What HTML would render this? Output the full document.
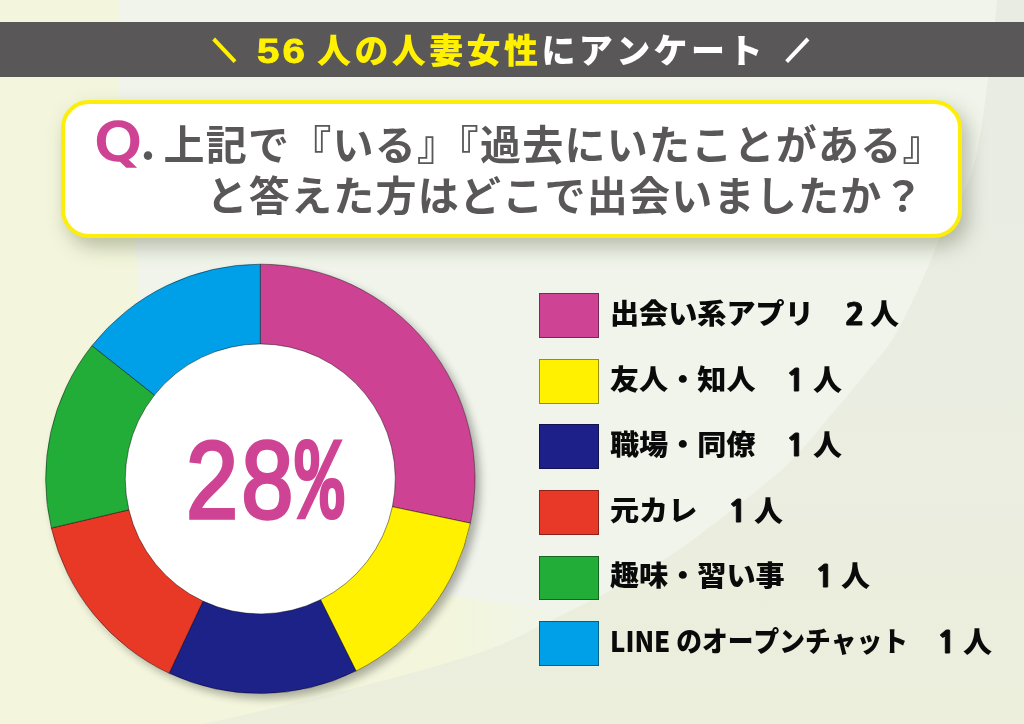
<!DOCTYPE html>
<html lang="ja">
<head>
<meta charset="utf-8">
<title>56人の人妻女性にアンケート</title>
<style>
html,body{margin:0;padding:0;}
body{width:1024px;height:724px;position:relative;overflow:hidden;background:#f3f6dc;font-family:"Liberation Sans","Noto Sans CJK JP",sans-serif;text-spacing-trim:space-all;font-kerning:none;}
#bg{position:absolute;left:0;top:0;width:1024px;height:724px;}
.abs{position:absolute;white-space:nowrap;}
#bar{position:absolute;left:0;top:21.5px;width:1024px;height:55.2px;background:#595757;}
.ti{top:24px;height:55px;line-height:55px;font-weight:900;font-size:34px;letter-spacing:3.4px;color:#fff;}
.ti.sl{font-size:22.5px;letter-spacing:0;-webkit-text-stroke:3px currentColor;margin-top:-.5px;transform:scaleX(.94);}
.ti.y{color:#fff100;}
#qbox{position:absolute;left:61px;top:100px;width:893px;height:130px;border:4px solid #fcee0a;border-radius:28px;background:#fff;box-shadow:6px 9px 19px rgba(70,80,50,.34);}
.q{font-weight:700;color:#595757;font-size:41px;letter-spacing:1.25px;line-height:50px;}
#qQ{left:94.8px;top:112.5px;font-family:"DejaVu Sans","Liberation Sans",sans-serif;font-size:51px;line-height:60px;color:#ce4393;font-weight:400;-webkit-text-stroke:2.5px #ce4393;transform:scaleX(1.15);transform-origin:0 50%;}
#qdot{left:140.6px;top:109.3px;font-family:"Noto Sans CJK JP","Liberation Sans",sans-serif;font-size:46px;line-height:60px;color:#595757;font-weight:700;}
#legend .sw{position:absolute;left:538.8px;width:60px;height:44.6px;box-sizing:border-box;border:1px solid rgba(0,0,0,.4);}
#legend .t{position:absolute;font-weight:900;font-size:29px;letter-spacing:0.1px;line-height:44px;color:#0a0a0a;white-space:nowrap;}
#legend .t.lb{font-size:28px;letter-spacing:0;transform:scaleX(1.04);transform-origin:0 50%;}
#legend .t.d{font-family:"NanumGothic","Liberation Sans",sans-serif;font-weight:800;font-size:29px;margin-top:0px;transform:scaleX(1.12);transform-origin:0 50%;-webkit-text-stroke:.8px #0a0a0a;}
#pct{left:186px;top:419.5px;letter-spacing:3.5px;font-size:109px;line-height:120px;color:#ce4393;-webkit-text-stroke:3.4px #ce4393;}
</style>
</head>
<body>
<svg id="bg" viewBox="0 0 1024 724">
  <defs><linearGradient id="wg" gradientUnits="userSpaceOnUse" x1="450" y1="0" x2="570" y2="0"><stop offset="0" stop-color="#f0f4ea" stop-opacity="0"/><stop offset="1" stop-color="#f0f4ea" stop-opacity="1"/></linearGradient><linearGradient id="cg" x1="0" y1="0" x2="0" y2="1"><stop offset="0" stop-color="#e9ece3"/><stop offset=".55" stop-color="#eaede1"/><stop offset="1" stop-color="#ecefdb"/></linearGradient></defs>
  <path d="M118.5 0H1024V676L137 552V262L118.5 92Z" fill="#f0f4ea"/>
  <path d="M440 590L1024 672V724H440Z" fill="url(#wg)"/>
  <path d="M997.5 -6C997.1 -1.3 996.6 7.7 995 22C993.4 36.3 991.2 57.5 988 80C984.8 102.5 980.7 137.0 976 157C971.3 177.0 966.2 186.2 960 200C953.8 213.8 944.2 229.2 939 240C933.8 250.8 933.5 254.7 929 265C924.5 275.3 918.2 289.5 912 302C905.8 314.5 899.5 328.3 892 340C884.5 351.7 877.0 359.7 867 372C857.0 384.3 844.2 399.7 832 414C819.8 428.3 805.2 446.3 794 458C782.8 469.7 776.7 474.3 765 484C753.3 493.7 738.7 504.8 724 516C709.3 527.2 694.5 539.3 677 551C659.5 562.7 638.5 575.2 619 586C599.5 596.8 579.8 606.2 560 616C540.2 625.8 520.0 636.8 500 645C480.0 653.2 461.7 658.5 440 665C418.3 671.5 395.0 677.5 370 684C345.0 690.5 317.8 697.3 290 704C262.2 710.7 226.3 718.7 203 724C179.7 729.3 158.8 734.0 150 736L1030 736L1030 -6Z" fill="url(#cg)"/>
</svg>
<div id="bar"></div>
<div id="ts1" class="abs ti y sl" style="left:213px">＼</div>
<div id="t56" class="abs ti y" style="left:257.2px;font-size:35.5px;letter-spacing:2.6px;font-weight:700;transform:scaleX(1.14);transform-origin:0 50%;-webkit-text-stroke:.8px #fff100;margin-top:-.5px">56</div>
<div id="t1" class="abs ti y" style="left:317px">人の人妻女性</div>
<div id="t2" class="abs ti" style="left:541.4px">にアンケート</div>
<div id="ts2" class="abs ti sl" style="left:785.5px">／</div>
<div id="qbox"></div>
<div id="qQ" class="abs">Q</div>
<div id="qdot" class="abs">.</div>
<div id="q1a" class="abs q" style="left:163.6px;top:121px;">上記で『いる』</div>
<div id="q1b" class="abs q" style="left:437.6px;top:121px;">『</div>
<div id="q1c" class="abs q" style="left:480px;top:121px;">過去にいたことがある』</div>
<div id="q2" class="abs q" style="left:206.6px;top:171.5px;">と答えた方はどこで出会いましたか？</div>

<svg id="donut" class="abs" style="left:0;top:0" width="1024" height="724" viewBox="0 0 1024 724">
<defs><filter id="ds" x="-10%" y="-10%" width="125%" height="125%"><feGaussianBlur in="SourceAlpha" stdDeviation="4"/><feOffset dx="5" dy="5"/><feComponentTransfer><feFuncA type="linear" slope="0.3"/></feComponentTransfer><feMerge><feMergeNode/><feMergeNode in="SourceGraphic"/></feMerge></filter></defs>
<g filter="url(#ds)">
<circle cx="260.3" cy="478.9" r="214.7" fill="#fff"/>
<g stroke="#000" stroke-opacity=".55" stroke-width="0.8" stroke-linejoin="round">
<path d="M260.30 264.20A214.7 214.7 0 0 1 470.39 523.17L392.40 506.74A135 135 0 0 0 260.30 343.90Z" fill="#ce4393"/>
<path d="M470.39 523.17A214.7 214.7 0 0 1 356.03 671.08L320.49 599.74A135 135 0 0 0 392.40 506.74Z" fill="#fff100"/>
<path d="M356.03 671.08A214.7 214.7 0 0 1 169.09 673.26L202.95 601.11A135 135 0 0 0 320.49 599.74Z" fill="#1d2088"/>
<path d="M169.09 673.26A214.7 214.7 0 0 1 51.31 528.07L128.89 509.82A135 135 0 0 0 202.95 601.11Z" fill="#e83828"/>
<path d="M51.31 528.07A214.7 214.7 0 0 1 91.99 345.60L154.47 395.08A135 135 0 0 0 128.89 509.82Z" fill="#22ac38"/>
<path d="M91.99 345.60A214.7 214.7 0 0 1 260.30 264.20L260.30 343.90A135 135 0 0 0 154.47 395.08Z" fill="#00a0e9"/>
</g>
</g>
</svg>
<div id="pct" class="abs"><span id="p28" style="display:inline-block;transform:scaleX(.86);transform-origin:0 0">28</span></div>
<div id="pctp" class="abs" style="left:296px;top:427px;font-family:'Liberation Mono',monospace;font-size:115px;line-height:120px;color:#ce4393;-webkit-text-stroke:4px #ce4393;transform:scaleX(.68);transform-origin:0 0">%</div>

<div id="legend">
  <div class="sw" style="top:293px;background:#ce4393"></div>
  <div class="t lb" id="l1" style="left:610px;top:293px">出会い系アプリ</div>
  <div class="t d" id="d1" style="left:845px;top:293px">2</div><div class="t" id="p1" style="left:870px;top:293px">人</div>
  <div class="sw" style="top:359px;background:#fff100"></div>
  <div class="t lb" id="l2" style="left:610px;top:359px">友人・知人</div>
  <div class="t d" id="d2" style="left:786px;top:359px">1</div><div class="t" id="p2" style="left:813px;top:359px">人</div>
  <div class="sw" style="top:424.3px;background:#1d2088"></div>
  <div class="t lb" id="l3" style="left:610px;top:424px">職場・同僚</div>
  <div class="t d" id="d3" style="left:786px;top:424px">1</div><div class="t" id="p3" style="left:813px;top:424px">人</div>
  <div class="sw" style="top:490px;background:#e83828"></div>
  <div class="t lb" id="l4" style="left:610px;top:490px">元カレ</div>
  <div class="t d" id="d4" style="left:728px;top:490px">1</div><div class="t" id="p4" style="left:754px;top:490px">人</div>
  <div class="sw" style="top:555.5px;background:#22ac38"></div>
  <div class="t lb" id="l5" style="left:610px;top:555px">趣味・習い事</div>
  <div class="t d" id="d5" style="left:815px;top:555px">1</div><div class="t" id="p5" style="left:841px;top:555px">人</div>
  <div class="sw" style="top:621.2px;background:#00a0e9"></div>
  <div class="t" id="l6" style="left:610px;top:617.5px;font-family:'Noto Sans CJK JP','Liberation Sans',sans-serif;font-size:28px;letter-spacing:0;transform:scaleX(.92);transform-origin:0 50%">LINE のオープンチャット</div>
  <div class="t d" id="d6" style="left:937px;top:621px">1</div><div class="t" id="p6" style="left:963px;top:621px">人</div>
</div>
</body>
</html>
